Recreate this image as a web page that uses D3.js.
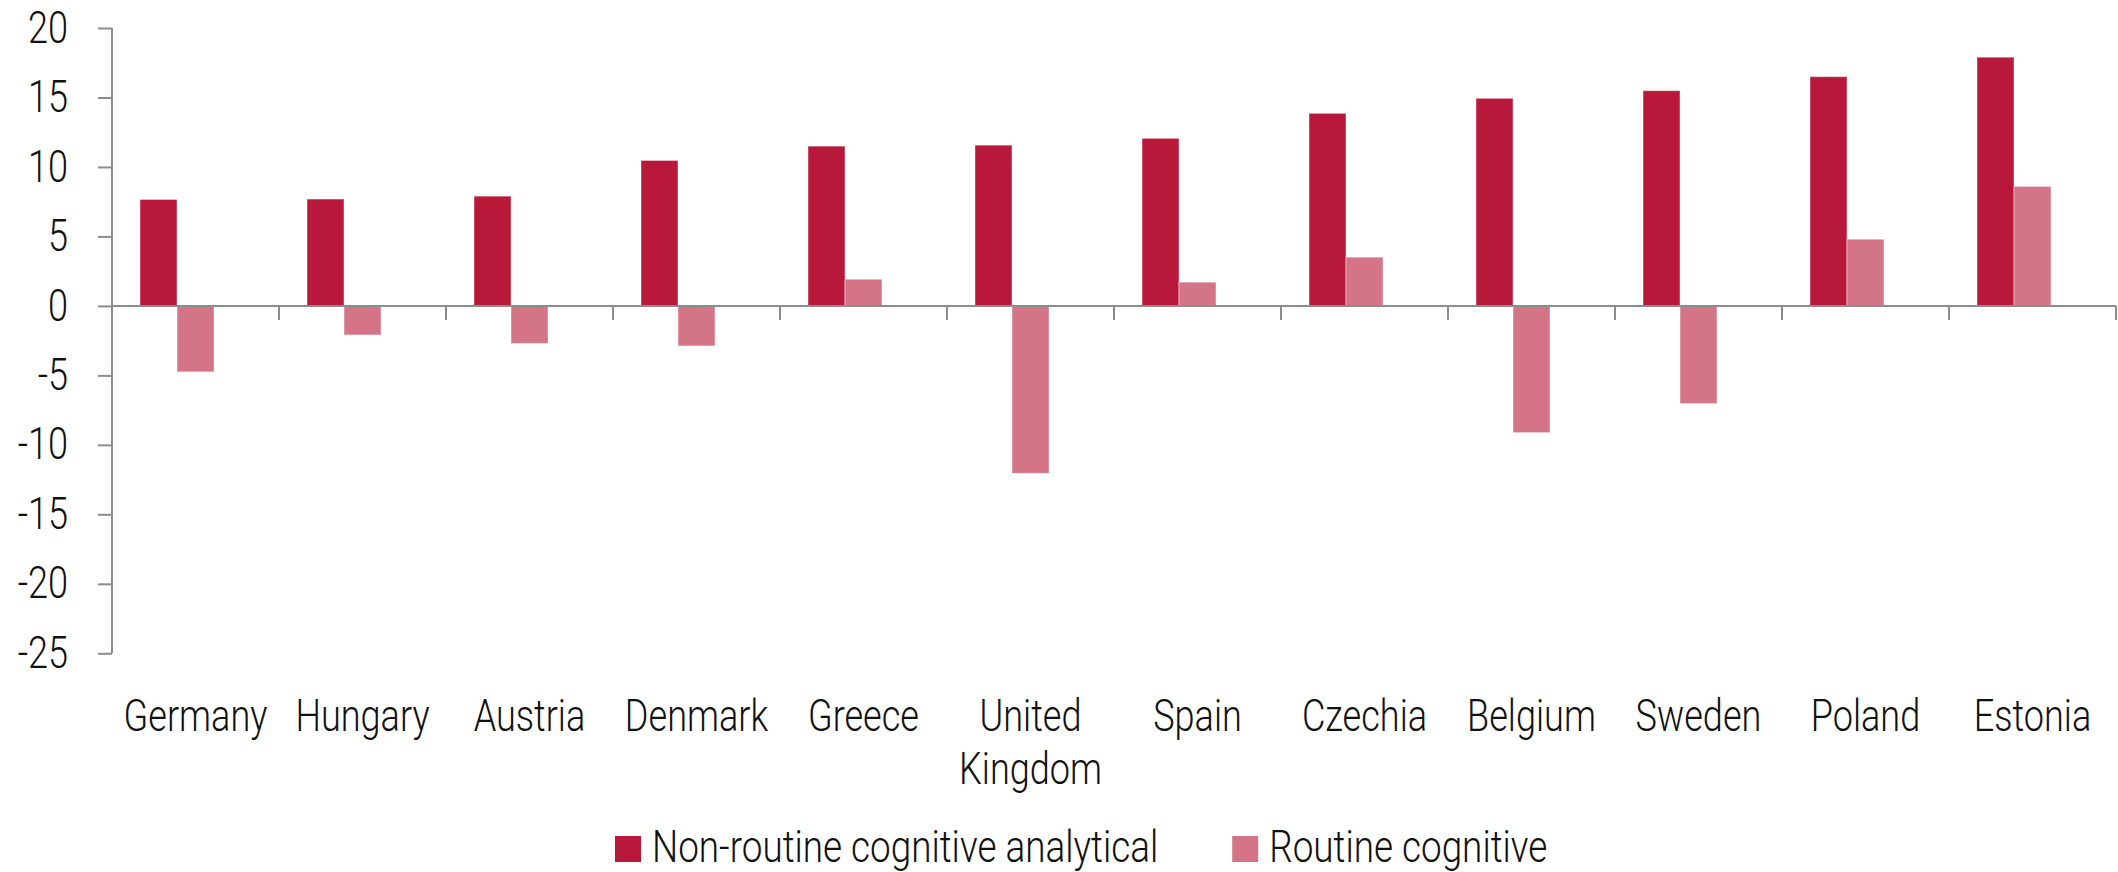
<!DOCTYPE html>
<html>
<head>
<meta charset="utf-8">
<script src="https://cdn.jsdelivr.net/npm/d3@7"></script>
<style>
  html, body { margin: 0; padding: 0; background: #fff; }
  svg { display: block; }
  text { font-family: Roboto, "Liberation Sans", sans-serif; font-weight: 300; fill: #111; }
</style>
</head>
<body>
<svg id="chart" width="2118" height="872"></svg>
<script>
// ---- data ----
const categories = ["Germany", "Hungary", "Austria", "Denmark", "Greece", "United Kingdom",
                    "Spain", "Czechia", "Belgium", "Sweden", "Poland", "Estonia"];
const categoryLines = [["Germany"], ["Hungary"], ["Austria"], ["Denmark"], ["Greece"], ["United", "Kingdom"],
                       ["Spain"], ["Czechia"], ["Belgium"], ["Sweden"], ["Poland"], ["Estonia"]];
const seriesNames = ["Non-routine cognitive analytical", "Routine cognitive"];
const nonRoutineAnalytical = [7.66, 7.69, 7.90, 10.47, 11.50, 11.57, 12.06, 13.86, 14.94, 15.49, 16.50, 17.90];
const routineCognitive = [-4.75, -2.09, -2.71, -2.88, 1.92, -12.05, 1.71, 3.51, -9.12, -7.03, 4.80, 8.60];
const yTicks = [20, 15, 10, 5, 0, -5, -10, -15, -20, -25];
const seriesColors = ["#B8183A", "#D47487"];

// ---- layout ----
const W = 2118, H = 872;
const plot = { left: 112, right: 2116, top: 28, bottom: 653.3 };
const FS = 44, SX = 0.82, SXL = 0.838;

const svg = d3.select("#chart");

const x0 = d3.scaleBand().domain(categories).range([plot.left, plot.right]).padding(0);
// three slots per category (third slot is empty, as in the original)
const x1 = d3.scaleBand().domain([0, 1, 2]).range([0, x0.bandwidth()]).paddingInner(0).paddingOuter(28 / 37);
const y = d3.scaleLinear().domain([-25, 20]).range([plot.bottom, plot.top]);

const axisColor = "#8c8c8c";

// ---- bars ----
const seriesData = [nonRoutineAnalytical, routineCognitive];
seriesData.forEach((vals, si) => {
  svg.append("g").selectAll("rect")
    .data(vals.map((v, i) => ({ cat: categories[i], v })))
    .join("rect")
    .attr("x", d => x0(d.cat) + x1(si))
    .attr("width", x1.bandwidth())
    .attr("y", d => y(Math.max(0, d.v)))
    .attr("height", d => Math.abs(y(d.v) - y(0)))
    .attr("fill", seriesColors[si])
    .attr("stroke", "rgba(255,255,255,0.45)")
    .attr("stroke-width", 1);
});

// ---- y axis ----
const yAxis = svg.append("g")
  .attr("transform", `translate(${plot.left},0)`)
  .call(d3.axisLeft(y).tickValues(yTicks).tickSize(14).tickPadding(30).tickFormat(d => String(d)));
yAxis.select(".domain").attr("stroke", axisColor).attr("stroke-width", 2)
  .attr("d", `M0,${plot.top}V${plot.bottom}`);
yAxis.selectAll(".tick line").attr("stroke", axisColor).attr("stroke-width", 2);
yAxis.selectAll(".tick text")
  .attr("font-size", FS).attr("font-family", null)
  .attr("x", -44 / SX)
  .attr("transform", `scale(${SX},1)`)
  .attr("fill", "#111");
yAxis.attr("font-family", null).attr("font-size", null);

// ---- x axis (zero line + category separators) ----
const xAxis = svg.append("g");
xAxis.append("line")
  .attr("x1", plot.left).attr("x2", plot.right)
  .attr("y1", y(0)).attr("y2", y(0))
  .attr("stroke", axisColor).attr("stroke-width", 2);
const boundaries = categories.map(c => x0(c)).concat([x0(categories[categories.length - 1]) + x0.bandwidth()]);
xAxis.selectAll("line.sep")
  .data(boundaries)
  .join("line")
  .attr("class", "sep")
  .attr("x1", d => d).attr("x2", d => d)
  .attr("y1", y(0)).attr("y2", y(0) + 14)
  .attr("stroke", axisColor).attr("stroke-width", 2);

// ---- category labels ----
const labelBase = 731, lineH = 53;
const lab = svg.append("g").selectAll("g")
  .data(categoryLines.map((lines, i) => ({ cat: categories[i], lines })))
  .join("g")
  .attr("transform", d => `translate(${x0(d.cat) + x0.bandwidth() / 2},0) scale(${SX},1)`);
lab.each(function (d) {
  d3.select(this).selectAll("text")
    .data(d.lines)
    .join("text")
    .attr("x", 0)
    .attr("y", (t, j) => labelBase + j * lineH)
    .attr("text-anchor", "middle")
    .attr("font-size", FS)
    .text(t => t);
});

// ---- legend ----
const legend = svg.append("g");
let lx = 615;
const sq = 26, legY = 836, legBase = 862;
seriesNames.forEach((name, i) => {
  legend.append("rect")
    .attr("x", lx).attr("y", legY).attr("width", sq).attr("height", sq)
    .attr("fill", seriesColors[i]);
  const t = legend.append("text")
    .attr("x", 0).attr("y", legBase)
    .attr("font-size", FS)
    .attr("transform", `translate(${lx + sq + 11},0) scale(${SXL},1)`)
    .text(name);
  const w = t.node().getComputedTextLength() * SXL;
  lx = lx + sq + 11 + w + 74;
});
</script>
</body>
</html>
